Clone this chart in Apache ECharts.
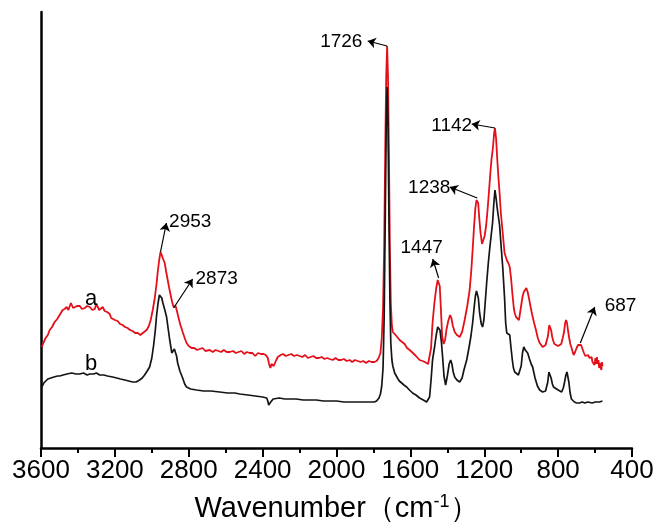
<!DOCTYPE html>
<html><head><meta charset="utf-8">
<script src="https://cdn.jsdelivr.net/npm/echarts@6/dist/echarts.min.js"></script>
<style>html,body{margin:0;padding:0;background:#fff}#c{width:657px;height:525px}</style>
</head><body><div id="c"></div>
<script>
// Spectrum a (red): [wavenumber, intensity a.u.]
const curveA = [
[3596,101],[3585,106],[3575,110],[3563,113],[3553,118],[3540,121],[3526,126],[3512,129],[3499,133],[3490,135],
[3483,138],[3472,139],[3461,141],[3452,138],[3445,140],[3438,145],[3434,143],[3426,140],[3418,140],[3405,142],
[3390,142],[3378,139],[3363,140],[3350,142],[3336,141],[3322,138],[3309,139],[3300,144],[3293,143],[3285,138],
[3277,140],[3266,141],[3255,137],[3242,136],[3228,134],[3220,130],[3212,131],[3200,128],[3185,127],[3172,124],
[3158,123],[3145,121],[3131,120],[3118,118],[3104,117],[3090,115],[3076,115],[3062,113],[3049,115],[3040,116],
[3028,118],[3016,122],[3006,128],[2995,138],[2984,150],[2975,163],[2968,176],[2960,188],[2953,196],[2946,193],
[2941,190],[2935,188],[2930,185],[2922,176],[2914,168],[2906,160],[2898,153],[2890,146],[2882,141],[2876,140],
[2871,142],[2864,137],[2855,130],[2845,123],[2833,116],[2822,110],[2812,105],[2800,102],[2785,100],[2770,100],
[2755,98],[2741,99],[2725,100],[2710,97],[2700,99],[2687,98],[2670,96],[2655,98],[2640,97],[2625,96],
[2610,98],[2595,96],[2578,96],[2560,97],[2545,95],[2530,96],[2515,97],[2500,94],[2485,96],[2470,95],
[2455,95],[2440,92],[2425,95],[2410,94],[2395,94],[2383,93],[2372,90],[2365,84],[2358,80],[2352,84],
[2346,86],[2340,82],[2333,81],[2326,88],[2318,91],[2302,93],[2290,94],[2275,92],[2260,93],[2245,94],
[2230,92],[2215,93],[2199,92],[2185,91],[2170,93],[2155,90],[2140,91],[2125,92],[2110,90],[2095,90],
[2080,91],[2065,89],[2050,90],[2037,89],[2020,88],[2005,90],[1990,88],[1975,88],[1960,89],[1945,87],
[1929,88],[1915,86],[1900,88],[1885,87],[1870,86],[1855,87],[1840,85],[1825,87],[1810,86],[1795,86],
[1783,87],[1772,90],[1762,95],[1755,110],[1748,140],[1742,200],[1736,300],[1731,370],[1726,402],[1721,370],
[1716,290],[1711,200],[1706,145],[1700,122],[1695,116],[1688,115],[1680,113],[1670,112],[1658,108],[1645,106],
[1631,104],[1618,100],[1604,98],[1592,96],[1582,94],[1570,92],[1561,90],[1550,88],[1540,89],[1534,87],
[1522,86],[1512,85],[1504,84],[1496,86],[1488,100],[1480,125],[1470,145],[1460,160],[1452,168],[1447,170],
[1441,162],[1435,140],[1428,112],[1420,104],[1412,108],[1405,118],[1395,127],[1385,133],[1378,130],[1370,122],
[1360,116],[1348,113],[1333,111],[1320,116],[1306,128],[1292,142],[1279,158],[1270,178],[1263,198],[1255,222],
[1248,240],[1242,248],[1238,250],[1233,245],[1227,230],[1220,215],[1212,204],[1205,204],[1198,212],[1190,222],
[1183,236],[1175,255],[1167,275],[1160,290],[1153,300],[1147,314],[1142,320],[1136,310],[1130,290],[1123,270],
[1117,255],[1110,235],[1100,215],[1090,195],[1078,188],[1070,185],[1062,181],[1055,170],[1048,155],[1040,140],
[1035,135],[1028,131],[1020,130],[1012,128],[1006,130],[998,145],[992,152],[986,156],[980,158],[972,160],
[965,156],[958,150],[949,141],[940,133],[930,125],[920,118],[910,110],[900,105],[890,103],[884,101],
[875,102],[868,103],[862,105],[855,112],[848,123],[843,125],[838,118],[832,111],[826,107],[820,104],
[810,102],[800,102],[792,101],[783,104],[775,110],[768,116],[762,125],[757,128],[752,125],[746,117],
[740,110],[734,104],[727,100],[721,96],[716,93],[708,96],[700,100],[692,103],[684,105],[676,103],
[668,101],[660,95],[653,92],[646,91],[638,93],[630,90],[624,92],[619,91],[614,86],[610,85],
[606,88],[603,83],[598,90],[594,84],[590,91],[586,84],[582,88],[578,80],[574,85],[570,83],
[566,78],[562,86],[560,82]
];
// Spectrum b (black)
const curveB = [
[3596,61],[3585,65],[3575,67],[3563,69],[3553,70],[3530,71],[3510,72],[3499,72],[3480,73],[3460,74],
[3434,75],[3410,74],[3390,74],[3370,75],[3350,73],[3336,74],[3315,74],[3300,75],[3282,73],[3260,73],
[3240,72],[3212,71],[3190,70],[3170,69],[3146,68],[3125,67],[3104,66],[3085,66],[3066,68],[3052,70],
[3039,73],[3025,77],[3012,81],[3000,90],[2990,103],[2981,118],[2974,133],[2966,145],[2959,153],[2953,155],
[2946,150],[2940,145],[2936,143],[2928,137],[2920,131],[2912,120],[2903,108],[2896,100],[2892,95],[2885,96],
[2878,99],[2872,98],[2866,92],[2860,85],[2848,77],[2833,70],[2822,64],[2812,61],[2790,59],[2758,58],
[2720,57],[2680,57],[2633,56],[2590,55],[2550,55],[2524,54],[2480,53],[2440,52],[2400,51],[2378,50],
[2372,47],[2367,43],[2361,44],[2356,46],[2351,47],[2343,49],[2335,50],[2310,50],[2280,49],[2253,49],
[2220,49],[2180,48],[2145,48],[2110,48],[2070,47],[2037,47],[2000,47],[1960,46],[1929,46],[1890,46],
[1850,46],[1821,46],[1795,46],[1783,47],[1770,50],[1762,54],[1755,62],[1748,80],[1742,130],[1736,230],
[1731,320],[1726,361],[1721,320],[1716,230],[1711,150],[1706,105],[1700,88],[1695,82],[1685,75],[1670,70],
[1660,67],[1647,65],[1635,63],[1620,61],[1605,58],[1588,55],[1570,53],[1550,50],[1530,48],[1512,46],
[1504,46],[1496,51],[1488,68],[1480,88],[1469,101],[1460,113],[1452,121],[1447,123],[1440,118],[1432,106],
[1425,90],[1418,72],[1409,63],[1400,72],[1390,84],[1382,88],[1375,84],[1368,76],[1360,71],[1348,68],
[1333,66],[1320,70],[1310,78],[1295,88],[1283,100],[1272,112],[1263,125],[1255,140],[1248,152],[1242,157],
[1238,158],[1232,150],[1225,135],[1216,124],[1209,121],[1202,128],[1195,145],[1187,165],[1178,185],[1170,200],
[1163,212],[1155,225],[1148,245],[1142,258],[1136,250],[1130,240],[1124,232],[1117,223],[1108,200],[1100,181],
[1090,150],[1084,125],[1078,115],[1070,114],[1062,113],[1055,100],[1048,88],[1042,80],[1035,76],[1025,74],
[1015,73],[1008,73],[1000,82],[993,95],[986,101],[978,98],[970,96],[965,95],[955,89],[946,84],
[938,81],[925,70],[912,62],[900,58],[890,56],[884,56],[875,57],[868,57],[862,58],[856,66],
[850,76],[844,78],[838,70],[831,64],[825,61],[815,60],[800,58],[790,56],[781,56],[772,60],
[765,66],[758,73],[752,76],[748,75],[742,66],[735,55],[728,49],[722,48],[712,46],[700,45],
[690,45],[684,45],[670,46],[655,45],[640,46],[630,46],[615,45],[600,46],[590,45],[576,46],
[568,47],[560,47]
];
const xMin = 400, xMax = 3600, xStep = 400;
const yMin = 0, yMax = 436;
// peak annotations: label, arrow start (on curve a), arrow tip, text centre (data space)
const peakNames = ['2953','2873','1726','1447','1238','1142','687'];
const peakFrom  = [[2953,196],[2882,140],[1726,402],[1447,170],[1238,250],[1142,320],[680,105]];
const peakTo    = [[2921,225],[2779,169],[1831,407],[1479,189],[1387,261],[1268,324],[602,141]];
const peakText  = [[2792,226],[2649,169],[1974,406],[1539,200],[1498,260],[1376,322],[462,142]];
const curveNames = ['a','b'];
const curveNamePos = [[3328,149],[3328,84]];

const FONT = "'Liberation Sans', Arial, sans-serif";
const chart = echarts.init(document.getElementById('c'), null, {renderer:'canvas'});
const arrowData = peakNames.map((n,i)=>[{coord:peakFrom[i]},{coord:peakTo[i]}]);
const textData = peakNames.map((n,i)=>({name:n, coord:peakText[i], label:{fontSize:19}}))
  .concat(curveNames.map((n,i)=>({name:n, coord:curveNamePos[i], label:{fontSize:22}})));

chart.setOption({
  animation:false,
  backgroundColor:'#fff',
  grid:{left:41,right:25,top:12,bottom:77,outerBoundsMode:'none',containLabel:false},
  xAxis:{
    type:'value', inverse:true, min:xMin, max:xMax, interval:xStep,
    axisLine:{show:true,onZero:false,lineStyle:{color:'#000',width:2.5}},
    axisTick:{show:true,inside:false,length:9,lineStyle:{color:'#000',width:2}},
    minorTick:{show:true,splitNumber:2,length:5,lineStyle:{color:'#000',width:2}},
    splitLine:{show:false},
    axisLabel:{color:'#000',fontSize:26,fontFamily:FONT,margin:10,formatter:v=>String(v)},
    name:'{t|Wavenumber（cm}{s|-1}{t|）}',
    nameLocation:'middle', nameGap:45,
    nameTextStyle:{color:'#000',fontFamily:FONT,
      rich:{t:{fontSize:29,fontFamily:FONT,color:'#000'},
            s:{fontSize:18,fontFamily:FONT,color:'#000',verticalAlign:'top',padding:[0,0,14,0]}}}
  },
  yAxis:{
    type:'value', min:yMin, max:yMax,
    axisLine:{show:true,onZero:false,lineStyle:{color:'#000',width:2.5}},
    axisTick:{show:false}, axisLabel:{show:false}, splitLine:{show:false}
  },
  series:[
    {type:'line', name:'a', data:curveA, showSymbol:false, symbol:'none',
     lineStyle:{color:'#e3101a',width:1.8}, z:2},
    {type:'line', name:'b', data:curveB, showSymbol:false, symbol:'none',
     lineStyle:{color:'#151515',width:1.7}, z:3,
     markLine:{silent:true, symbol:['none','arrow'], symbolSize:8, animation:false,
       label:{show:false}, lineStyle:{color:'#000',width:1.2,type:'solid'},
       emphasis:{disabled:true}, data:arrowData},
     markPoint:{silent:true, symbol:'circle', symbolSize:1, animation:false,
       itemStyle:{color:'rgba(0,0,0,0)'},
       label:{show:true, position:'inside', color:'#000', fontFamily:FONT, formatter:'{b}'},
       emphasis:{disabled:true}, data:textData}
    }
  ]
});
</script></body></html>
